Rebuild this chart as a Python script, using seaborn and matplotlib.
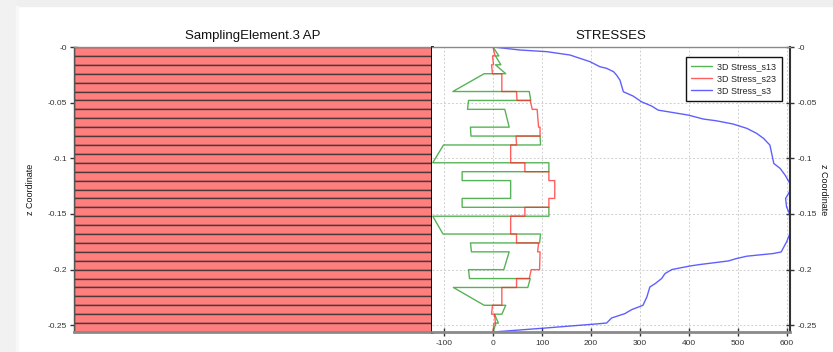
import numpy as np
import pandas as pd
import matplotlib
matplotlib.use("Agg")
import matplotlib.pyplot as plt
from matplotlib.patches import Rectangle
from matplotlib.lines import Line2D
import seaborn as sns

sns.set_theme(style="white")
plt.rcParams['font.family'] = ['Liberation Sans', 'DejaVu Sans']

# --- laminate layers -------------------------------------------------------
layer_thickness = 0.008
n_layers = 32

# ply boundaries, as layer indices from the top surface
ply_edges = [0, 1, 2, 3, 5, 6, 7, 9, 10, 11, 13, 14, 15, 17, 18, 19,
             21, 22, 23, 25, 26, 27, 29, 30, 31, 32]

# transverse shear s13: value at top and bottom of every ply
s13_top = [0, 5, 5, -18, 74, -50, 24, -46, 96, -101, 114, -63, 36,
           -63, 114, -123, 97, -46, 33, -50, 76, -81, 26, 3, 6]
s13_bot = [12, 16, 26, -82, 77, -52, 33, -45, 97, -123, 114, -63, 36,
           -63, 114, -102, 95, -44, 22, -48, 71, -18, 18, 11, 0]

# transverse shear s23: value at top and bottom of every ply
s23_top = [0, -1, -3, 18, 48, 76, 90, 96, 47, 36, 65, 114, 126,
           114, 65, 36, 48, 93, 96, 78, 48, 18, -1, 3, 2]
s23_bot = [4, 1, -1, 18, 49, 80, 93, 96, 48, 36, 65, 114, 126,
           114, 65, 36, 48, 91, 95, 74, 48, 18, -3, 5, 0]

# through-thickness normal stress s3
s3_z = [0, -0.0027, -0.0042, -0.0072, -0.0132, -0.0177, -0.0192, -0.0222,
        -0.0252, -0.0297, -0.0402, -0.0441, -0.0492, -0.0531, -0.0567,
        -0.0612, -0.0647, -0.0663, -0.0692, -0.0731, -0.0776, -0.0821,
        -0.0881, -0.1046, -0.1091, -0.1151, -0.1226, -0.1301, -0.1361,
        -0.1436, -0.1496, -0.1675, -0.1751, -0.1841, -0.1855, -0.1879,
        -0.1900, -0.1922, -0.1954, -0.1967, -0.1999, -0.2035, -0.2080,
        -0.2125, -0.2156, -0.2245, -0.2320, -0.2359, -0.2395, -0.2434,
        -0.2479, -0.2485, -0.2525, -0.256]
s3_val = [0, 55, 110, 157, 198, 218, 232, 246, 252, 259, 266, 286, 303,
          324, 337, 399, 429, 456, 490, 518, 538, 552, 565, 573, 586, 596,
          606, 605, 597, 599, 605, 606, 599, 588, 572, 518, 497, 480, 422,
          402, 365, 351, 344, 331, 320, 314, 306, 283, 269, 242, 232, 218,
          105, 0]

series_names = ["3D Stress_s13", "3D Stress_s23", "3D Stress_s3"]
series_colors = ["#1f9a1f", "#ff2a2a", "#2a2aff"]

z_ticks = [0, -0.05, -0.1, -0.15, -0.2, -0.25]
z_tick_labels = ["-0", "-0.05", "-0.1", "-0.15", "-0.2", "-0.25"]
x_ticks = [-100, 0, 100, 200, 300, 400, 500, 600]

# --- build long-form table of the profile paths ---------------------------
rows = []
for name, tops, bots in [(series_names[0], s13_top, s13_bot),
                         (series_names[1], s23_top, s23_bot)]:
    for i in range(len(ply_edges) - 1):
        zt = -ply_edges[i] * layer_thickness
        zb = -ply_edges[i + 1] * layer_thickness
        rows.append((name, tops[i], zt))
        rows.append((name, bots[i], zb))
for v, z in zip(s3_val, s3_z):
    rows.append((series_names[2], v, z))
df = pd.DataFrame(rows, columns=["series", "stress", "z"])

# --- figure ---------------------------------------------------------------
W, H = 833, 352
fig = plt.figure(figsize=(W / 100, H / 100), dpi=100)
fig.patch.set_facecolor("white")
# page margin around the card
fig.patches.append(Rectangle((0, 1 - 6 / H), 1, 6 / H, transform=fig.transFigure,
                             color="#efefef", zorder=0))
fig.patches.append(Rectangle((0, 0), 16 / W, 1, transform=fig.transFigure,
                             color="#f1f1f1", zorder=0))
fig.patches.append(Rectangle((16 / W, 0), 2 / W, 1 - 6 / H, transform=fig.transFigure,
                             color="#f8f8f8", zorder=0))

ax_bottom = 20 / H
ax_height = (332 - 47) / H
ax1 = fig.add_axes([74 / W, ax_bottom, (432 - 74) / W, ax_height])
ax2 = fig.add_axes([432 / W, ax_bottom, (789.5 - 432) / W, ax_height])

zmin = -n_layers * layer_thickness

# --- left panel: layer stack ---------------------------------------------
layer_centers = -(np.arange(n_layers) + 0.5) * layer_thickness
ax1.barh(layer_centers, width=1, height=layer_thickness, left=0,
         color="#ff7f7f", edgecolor="#4e3838", linewidth=1.0, zorder=2)
ax1.set_xlim(0, 1)
ax1.set_ylim(zmin, 0)
ax1.set_xticks([])
ax1.set_yticks(z_ticks)
ax1.set_yticklabels(z_tick_labels)
ax1.tick_params(axis="y", direction="inout", length=6, width=1, colors="#333333",
                labelsize=6, pad=2, left=True)
ax1.grid(axis="y", color="#ffffff", linestyle=(0, (2, 2)), linewidth=0.7, alpha=0.35, zorder=3)
ax1.set_title("SamplingElement.3 AP", fontsize=9.5, pad=6, color="#111111")
ax1.set_ylabel("z Coordinate", fontsize=6.5, color="#111111")
ax1.yaxis.set_label_coords(-0.109, 0.5)
for side, sp in ax1.spines.items():
    sp.set_visible(True)
ax1.spines["left"].set_color("#555555")
ax1.spines["left"].set_linewidth(1.0)
ax1.spines["top"].set_color("#8a8a8a")
ax1.spines["top"].set_linewidth(1.0)
ax1.spines["bottom"].set_color("#8a8a8a")
ax1.spines["bottom"].set_linewidth(2.0)
ax1.spines["right"].set_color("#000000")
ax1.spines["right"].set_linewidth(2.0)
ax1.spines["right"].set_zorder(5)

# --- right panel: stress profiles ----------------------------------------
sns.lineplot(data=df, x="stress", y="z", hue="series", hue_order=series_names,
             palette=dict(zip(series_names, series_colors)), sort=False,
             estimator=None, orient="y", linewidth=1.0, alpha=0.75,
             legend=False, ax=ax2)
ax2.set_xlim(-124.5, 605)
ax2.set_ylim(zmin, 0)
ax2.set_xticks(x_ticks)
ax2.set_xticklabels([str(v) for v in x_ticks])
ax2.set_yticks(z_ticks)
ax2.set_yticklabels(z_tick_labels)
ax2.yaxis.tick_right()
ax2.yaxis.set_label_position("right")
ax2.tick_params(axis="y", direction="inout", length=6, width=1, colors="#333333",
                labelsize=6, pad=3, right=True, left=False)
ax2.tick_params(axis="x", direction="inout", length=6, width=1, colors="#333333",
                labelsize=6, pad=3, bottom=True)
ax2.grid(True, color="#cfcfcf", linestyle=(0, (2, 2)), linewidth=0.7)
ax2.set_axisbelow(True)
ax2.set_xlabel("")
ax2.set_ylabel("z Coordinate", fontsize=6.5, rotation=270, color="#111111")
ax2.yaxis.set_label_coords(1.107, 0.5)
ax2.set_title("STRESSES", fontsize=9.5, pad=6, color="#111111")
ax2.spines["left"].set_visible(False)
ax2.spines["top"].set_color("#8a8a8a")
ax2.spines["top"].set_linewidth(1.0)
ax2.spines["bottom"].set_color("#8a8a8a")
ax2.spines["bottom"].set_linewidth(2.0)
ax2.spines["right"].set_color("#333333")
ax2.spines["right"].set_linewidth(1.5)
for sp in ax2.spines.values():
    sp.set_zorder(5)

handles = [Line2D([], [], color=c, linewidth=1.0, alpha=0.75) for c in series_colors]
leg = ax2.legend(handles, series_names, loc="upper right",
                 bbox_to_anchor=(0.978, 0.966), borderaxespad=0, fontsize=6.5,
                 frameon=True, fancybox=False, framealpha=1, edgecolor="#111111",
                 handlelength=2.3, handletextpad=0.6, labelspacing=0.35,
                 borderpad=0.6)
leg.get_frame().set_linewidth(1.0)

fig.savefig("out.png", dpi=100, facecolor=fig.get_facecolor())
